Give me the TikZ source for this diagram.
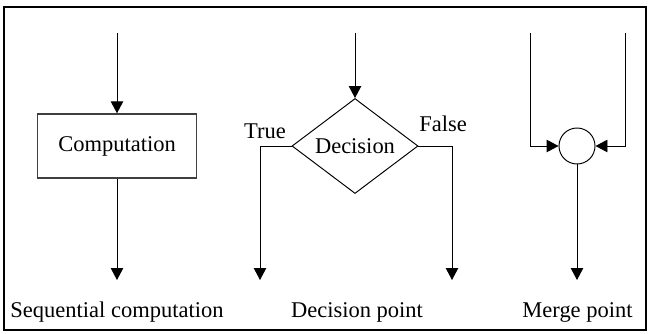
\documentclass[tikz,border=0pt]{standalone}
\usepackage{fontspec}
\setmainfont{Liberation Serif}
\usetikzlibrary{arrows.meta,shapes.geometric}

\begin{document}
\begin{tikzpicture}[
    font=\fontsize{12.8}{15}\selectfont,
    flow/.style={-{Triangle[length=2.4mm, width=2.5mm]}, line width=0.55pt},
    caption/.style={inner sep=0pt}
  ]

    % Fix the page size and draw the outer frame
    \useasboundingbox (0, 0) rectangle (13, 6.66);
    \draw[line width=1.4pt] (0.08, 0.06) rectangle (12.92, 6.52);

    % Part a: sequential computation
    % Draw the computation box
    \node[draw=black!75, line width=0.8pt, rectangle, minimum width=3.18cm, minimum height=1.28cm] (comp) at (2.34, 3.74) {Computation};
    % Draw free ends of the arrows
    \coordinate (comp_in) at (2.34, 6.00);
    \coordinate (comp_out) at (2.34, 1.06);
    % Draw arrows into and out of the box
    \draw[flow] (comp_in) -- (comp.north);
    \draw[flow] (comp.south) -- (comp_out);
    % Draw caption
    \node[caption] (label_a) at (2.34, 0.42) {Sequential computation};

    % Part b: decision point
    % Draw the decision diamond
    \node[draw, diamond, aspect=1.33, inner sep=0pt, line width=0.55pt, minimum width=2.52cm, minimum height=1.9cm] (dec) at (7.10, 3.74) {Decision};
    % Draw free ends of the arrows
    \coordinate (dec_in) at (7.10, 6.00);
    \coordinate (dec_true) at (5.20, 1.06);
    \coordinate (dec_false) at (9.04, 1.06);
    % Draw arrow into the diamond and the two branches
    \draw[flow] (dec_in) -- (dec.north);
    \draw[flow] (dec.west) -| (dec_true);
    \draw[flow] (dec.east) -| (dec_false);
    % Draw branch labels
    \node[caption] (label_true) at (5.30, 4.04) {True};
    \node[caption] (label_false) at (8.86, 4.18) {False};
    % Draw caption
    \node[caption] (label_b) at (7.14, 0.42) {Decision point};

    % Part c: merge point
    % Draw the merge circle
    \node[draw, circle, line width=0.55pt, minimum size=0.72cm, inner sep=0pt] (merge) at (11.54, 3.74) {};
    % Draw free ends of the arrows
    \coordinate (merge_left) at (10.60, 6.00);
    \coordinate (merge_right) at (12.50, 6.00);
    \coordinate (merge_out) at (11.54, 1.06);
    % Draw the two incoming arrows and the outgoing one
    \draw[flow] (merge_left) |- (merge.west);
    \draw[flow] (merge_right) |- (merge.east);
    \draw[flow] (merge.south) -- (merge_out);
    % Draw caption
    \node[caption] (label_c) at (11.55, 0.42) {Merge point};

\end{tikzpicture}
\end{document}
